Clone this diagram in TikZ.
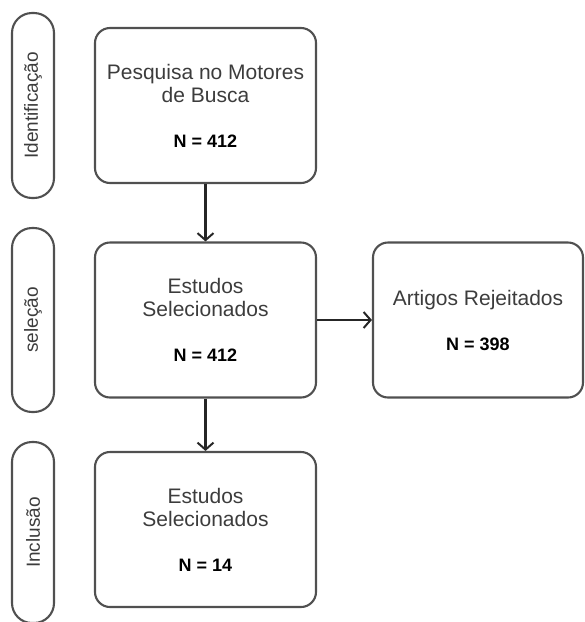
\documentclass[tikz,border=0pt]{standalone}
\usepackage{fontspec}
\setmainfont{Liberation Sans}
\usetikzlibrary{arrows.meta}
\definecolor{linha}{RGB}{80,80,80}
\definecolor{texto}{RGB}{60,60,60}

\begin{document}
\begin{tikzpicture}[x=1pt,y=-1pt]
\tikzstyle{etapa}=[rectangle,draw=linha,line width=2.1pt,rounded corners=20pt,minimum height=42pt,rotate=90,text=texto,font=\fontsize{19}{22}\selectfont]
\tikzstyle{caixa}=[rectangle,draw=linha,line width=2.1pt,rounded corners=15pt,minimum width=221pt,minimum height=155pt,align=center,text=texto,font=\fontsize{21}{23}\selectfont]
\tikzstyle{seta}=[-{Straight Barb[length=7pt,width=16pt,line width=2pt]},draw=black!85,line width=2.3pt]
\useasboundingbox (0,0) rectangle (585,622);
% etapas
\node[etapa,minimum width=185pt] (ident) at (33,105.5) {Identificação};
\node[etapa,minimum width=184pt] (selec) at (33,320) {seleção};
\node[etapa,minimum width=181pt] (inclu) at (33,532.5) {Inclusão};
% caixas
\node[caixa] (busca) at (205.5,105.5) {Pesquisa no Motores\\de Busca\\[22pt]\textcolor{black}{\fontsize{18}{23}\selectfont\bfseries N = 412}};
\node[caixa] (estudos) at (205.5,320) {Estudos\\Selecionados\\[22pt]\textcolor{black}{\fontsize{18}{23}\selectfont\bfseries N = 412}};
\node[caixa,minimum width=210pt] (rejeit) at (478,320) {Artigos Rejeitados\\[22pt]\textcolor{black}{\fontsize{18}{23}\selectfont\bfseries N = 398}};
\node[caixa] (incl) at (205.5,529.5) {Estudos\\Selecionados\\[22pt]\textcolor{black}{\fontsize{18}{23}\selectfont\bfseries N = 14}};
% setas
\draw[seta] (busca) -- (estudos);
\draw[seta] (estudos) -- (rejeit);
\draw[seta] (estudos) -- (incl);
\end{tikzpicture}
\end{document}
